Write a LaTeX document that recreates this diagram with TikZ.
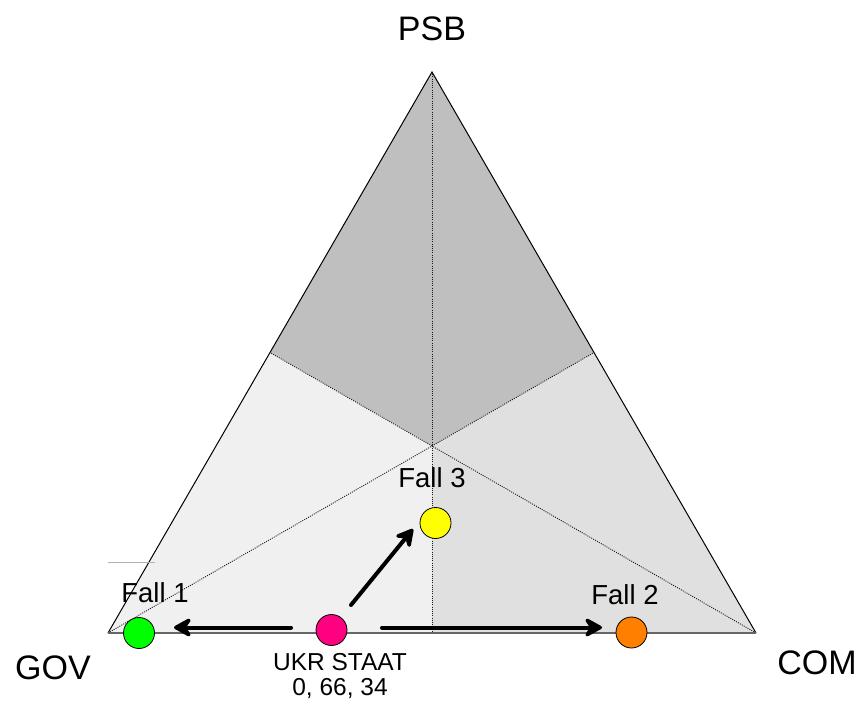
\documentclass[tikz,border=0pt]{standalone}
\usepackage{fontspec}
\setmainfont{Liberation Sans}
\usetikzlibrary{arrows.meta}
\begin{document}
\begin{tikzpicture}[x=1pt,y=-1pt,
  lbl/.style={inner sep=0pt,anchor=center},
  big/.style={lbl,font=\fontsize{34}{38}\selectfont},
  mid/.style={lbl,font=\fontsize{27.5}{30}\selectfont},
  small/.style={lbl,font=\fontsize{24.5}{27}\selectfont,align=center},
  dot/.style={circle,draw=black,line width=0.8pt,minimum size=31pt,inner sep=0pt},
  median/.style={draw=black!90,dash pattern=on 1pt off 1.2pt,line width=0.9pt},
  move/.style={line width=4pt,line cap=round,-{Stealth[length=22pt,width=24pt,inset=8pt,round]}}]
\useasboundingbox (0,0) rectangle (860,704);
% corners, side midpoints and centroid
\coordinate (A) at (432,72);
\coordinate (L) at (108,633);
\coordinate (R) at (756,633);
\coordinate (ML) at (270,352.5);
\coordinate (MR) at (594,352.5);
\coordinate (MB) at (432,633);
\coordinate (G) at (432,446);
% shaded sectors
\fill[black!25] (A) -- (MR) -- (G) -- (ML) -- cycle;
\fill[black!6] (L) -- (ML) -- (G) -- (MB) -- cycle;
\fill[black!12] (R) -- (MR) -- (G) -- (MB) -- cycle;
% medians
\draw[median] (A) -- (MB);
\draw[median] (L) -- (MR);
\draw[median] (R) -- (ML);
% triangle edges
\draw[line width=1pt] (L) -- (A) -- (R);
\draw[black!60,line width=1.2pt] (L) -- (R);
\draw[black!30,line width=0.8pt] (108,562) -- (155,562);
% vertex labels
\node[big] (psb) at (432,29) {PSB};
\node[big] (gov) at (53,668) {GOV};
\node[big] (com) at (817,663) {COM};
% positions
\node[dot,fill={rgb,255:red,0;green,255;blue,0}] (f1) at (139,633) {};
\node[dot,fill={rgb,255:red,255;green,0;blue,128}] (ukr) at (331.5,630) {};
\node[dot,fill={rgb,255:red,255;green,255;blue,0}] (f3) at (435.5,523) {};
\node[dot,fill={rgb,255:red,255;green,128;blue,0}] (f2) at (631.5,632.5) {};
\node[mid] (t1) at (155,593) {Fall 1};
\node[mid] (t3) at (432,478) {Fall 3};
\node[mid] (t2) at (625,595) {Fall 2};
\node[small] (tu) at (340,676) {UKR STAAT\\[-2pt]0, 66, 34};
% shifts
\coordinate (a1s) at (291,627.5);
\coordinate (a1e) at (174,627.5);
\coordinate (a2s) at (382,627.5);
\coordinate (a2e) at (602,627.5);
\coordinate (a3s) at (351,605);
\coordinate (a3e) at (413,529);
\draw[move] (a1s) -- (a1e);
\draw[move] (a2s) -- (a2e);
\draw[move] (a3s) -- (a3e);
\end{tikzpicture}
\end{document}
